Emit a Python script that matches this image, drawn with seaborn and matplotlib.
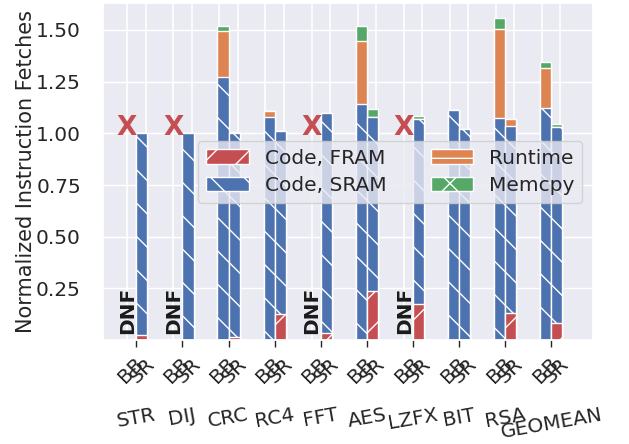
import numpy as np
import pandas as pd
import matplotlib
matplotlib.use('Agg')
import matplotlib.pyplot as plt
from matplotlib.patches import Patch
import seaborn as sns

benchmarks = ['STR', 'DIJ', 'CRC', 'RC4', 'FFT', 'AES', 'LZFX', 'BIT', 'RSA', 'GEOMEAN']
configs = ['BB', 'SR']

# BB results, nan = did not finish
bb_fram = [np.nan, np.nan, 0.0, 0.0, np.nan, 0.0, np.nan, 0.0, 0.0, 0.0]
bb_sram = [np.nan, np.nan, 1.274, 1.080, np.nan, 1.140, np.nan, 1.113, 1.075, 1.121]
bb_runtime = [np.nan, np.nan, 0.223, 0.028, np.nan, 0.308, np.nan, 0.0, 0.430, 0.196]
bb_memcpy = [np.nan, np.nan, 0.022, 0.0, np.nan, 0.073, np.nan, 0.0, 0.051, 0.030]

# SR results
sr_fram = [0.025, 0.0, 0.013, 0.124, 0.035, 0.237, 0.177, 0.0, 0.129, 0.081]
sr_sram = [0.975, 1.0, 0.987, 0.889, 1.062, 0.843, 0.892, 1.019, 0.908, 0.951]
sr_runtime = [0.0, 0.0, 0.0, 0.0, 0.0, 0.0, 0.0, 0.0, 0.032, 0.0]
sr_memcpy = [0.0, 0.0, 0.005, 0.0, 0.0, 0.040, 0.016, 0.0, 0.0, 0.012]


def build_df():
    rows = []
    for cfg, parts in [('BB', (bb_fram, bb_sram, bb_runtime, bb_memcpy)),
                       ('SR', (sr_fram, sr_sram, sr_runtime, sr_memcpy))]:
        for i, b in enumerate(benchmarks):
            fram, sram, rt, mc = (p[i] for p in parts)
            rows.append({'bench': b, 'config': cfg,
                         'fram': fram,
                         'sram': fram + sram,
                         'runtime': fram + sram + rt,
                         'memcpy': fram + sram + rt + mc})
    return pd.DataFrame(rows)


df = build_df()

sns.set_theme(style='darkgrid')
pal = sns.color_palette('deep')
blue, orange, green, red = pal[0], pal[1], pal[2], pal[3]

fig, ax = plt.subplots(figsize=(6.29, 4.44), dpi=100)
fig.subplots_adjust(left=0.164, right=0.943, top=0.993, bottom=0.234)

# stacked bars: draw cumulative totals from the top layer down
layers = [('memcpy', green, None), ('runtime', orange, None),
          ('sram', blue, '\\'), ('fram', red, '/')]
for col, color, hatch in layers:
    sns.barplot(data=df, x='bench', y=col, hue='config', order=benchmarks,
                hue_order=configs, palette=[color, color], width=0.48,
                saturation=1, errorbar=None, edgecolor='white', linewidth=1,
                hatch=hatch, legend=False, ax=ax)

pos = np.arange(len(benchmarks))
for p in pos:
    for d in (-0.2, 0.2):
        ax.axvline(p + d, color='white', lw=1.2, zorder=0.6)

# did-not-finish markers
for i, v in enumerate(bb_sram):
    if np.isnan(v):
        ax.text(i - 0.2, 1.025, 'X', color=red, fontsize=19, fontweight='bold',
                ha='center', va='center')
        ax.text(i - 0.19, 0.03, 'DNF', rotation=90, fontsize=14.5,
                fontweight='bold', color='#1a1a1a', ha='center', va='bottom')

ax.set_xlim(-0.72, 9.91)
ax.set_ylim(0, 1.63)
ax.set_yticks([0.25, 0.5, 0.75, 1.0, 1.25, 1.5])
ax.tick_params(axis='y', labelsize=14.5, pad=10)

ax.set_xticks(pos)
ax.set_xticklabels(benchmarks, rotation=10, ha='center')
minor_pos = np.ravel(np.column_stack([pos - 0.12, pos + 0.12]))
ax.set_xticks(minor_pos, minor=True)
ax.set_xticklabels(configs * len(benchmarks), minor=True, rotation=45, ha='center')
ax.tick_params(axis='x', which='major', bottom=True, length=5, width=1,
               color='#262626', pad=42, labelsize=14.5)
ax.tick_params(axis='x', which='minor', bottom=False, length=0, pad=10,
               labelsize=14.5)

ax.set_xlabel('')
ax.set_ylabel('Normalized Instruction Fetches', fontsize=15, labelpad=0)

handles = [Patch(facecolor=red, edgecolor='white', hatch='/', label='Code, FRAM'),
           Patch(facecolor=blue, edgecolor='white', hatch='\\', label='Code, SRAM'),
           Patch(facecolor=orange, edgecolor='white', hatch='-', label='Runtime'),
           Patch(facecolor=green, edgecolor='white', hatch='x', label='Memcpy')]
ax.legend(handles=handles, ncol=2, loc='center', bbox_to_anchor=(0.586, 0.50),
          fontsize=14.5, handlelength=2.1, columnspacing=2.2, labelspacing=0.4,
          handleheight=0.7)

fig.savefig('out.png', dpi=100)
